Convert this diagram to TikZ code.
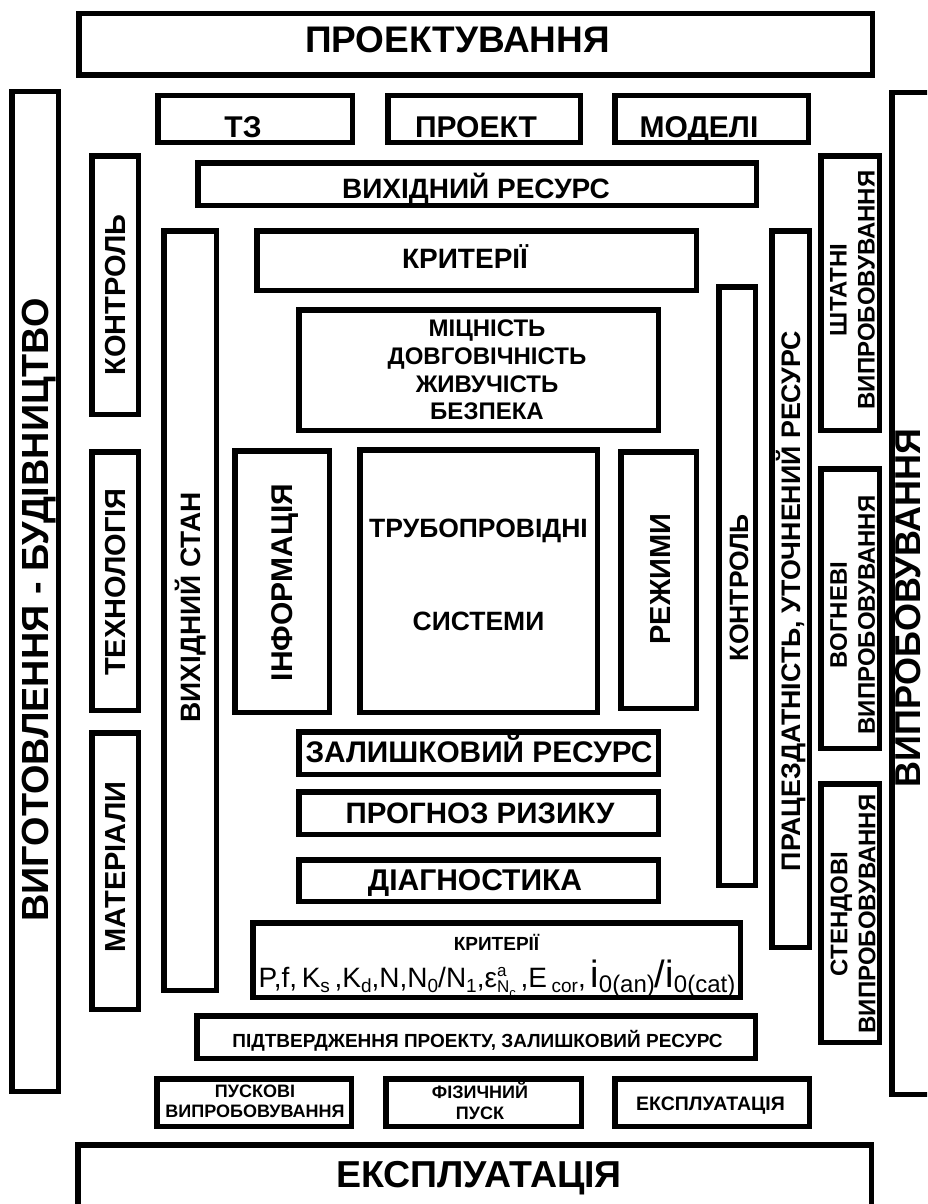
\documentclass[tikz,border=0pt]{standalone}
\usepackage{fontspec}
\setmainfont{Liberation Sans}
\newcommand\fs[1]{\fontsize{#1}{#1}\selectfont}
\newcommand\sbx[2][19]{\raisebox{-5pt}{\fs{#1}#2}}
\newcommand\bigch[1]{{\fs{38}#1}}
\newcommand\supsubx[2]{\rlap{\raisebox{11pt}{\fs{17}#1}}\raisebox{-5pt}{\fs{17}#2}}
\begin{document}
\begin{tikzpicture}[x=1pt,y=-1pt,
  box/.style={draw, line width=5.5pt, inner sep=0pt},
  lbl/.style={inner sep=0pt, anchor=base, font=\bfseries\fs{#1}},
  vlbl/.style={inner sep=0pt, anchor=base, rotate=90, font=\bfseries\fs{#1}},
  blk/.style={inner sep=0pt, align=center, font=\bfseries\fontsize{#1}{#1}\selectfont}]
\useasboundingbox (0,0) rectangle (927,1204);
\clip (0,0) rectangle (927,1204);

% boxes
\node[box, minimum width=793.5, minimum height=61.5] (bproj) at (475.5,44.5) {};
\node[box, minimum width=194.5, minimum height=46.5] (btz) at (255,119) {};
\node[box, minimum width=192.5, minimum height=46.5] (bproekt) at (484,119) {};
\node[box, minimum width=193.5, minimum height=46.5] (bmodeli) at (711.5,119) {};
\node[box, minimum width=558.5, minimum height=42.5] (bvres) at (477,184) {};
\node[box, minimum width=46.5, minimum height=999.5] (bbigL) at (35,591.5) {};
\node[box, minimum width=40.5, minimum height=1001.5] (bbigR) at (912,593.5) {};
\node[box, minimum width=46.5, minimum height=258.5] (bkontrL) at (115,285) {};
\node[box, minimum width=46.5, minimum height=258.5] (btekh) at (115,581) {};
\node[box, minimum width=46.5, minimum height=276.5] (bmater) at (115,871) {};
\node[box, minimum width=52.5, minimum height=759.5] (bvstan) at (190,610.5) {};
\node[box, minimum width=439.5, minimum height=59.5] (bkrit) at (476.5,260.5) {};
\node[box, minimum width=359.5, minimum height=120.5] (bmitsn) at (478.5,370) {};
\node[box, minimum width=94.5, minimum height=261.5] (binform) at (282,581.5) {};
\node[box, minimum width=237.5, minimum height=262.5] (btrub) at (478.5,581) {};
\node[box, minimum width=75.5, minimum height=256.5] (brezh) at (658.5,580) {};
\node[box, minimum width=36.5, minimum height=598.5] (bkontrR) at (737,586) {};
\node[box, minimum width=37.5, minimum height=716.5] (bprats) at (790.5,589) {};
\node[box, minimum width=58.5, minimum height=274.5] (bshtat) at (850,293) {};
\node[box, minimum width=58.5, minimum height=279.5] (bvohn) at (850,608.5) {};
\node[box, minimum width=58.5, minimum height=258.5] (bstend) at (850,913) {};
\node[box, minimum width=359.5, minimum height=42.5] (bzal) at (478.5,753) {};
\node[box, minimum width=359.5, minimum height=42.5] (bprog) at (478.5,813) {};
\node[box, minimum width=359.5, minimum height=41.5] (bdiag) at (478.5,880.5) {};
\node[box, minimum width=487.5, minimum height=74.5] (bkrit2) at (496.5,960) {};
\node[box, minimum width=558.5, minimum height=42.5] (bpidtv) at (476,1037) {};
\node[box, minimum width=194.5, minimum height=47.5] (bpusk) at (254,1102.5) {};
\node[box, minimum width=195.5, minimum height=47.5] (bfiz) at (483.5,1102.5) {};
\node[box, minimum width=194.5, minimum height=47.5] (bekspl) at (712,1102.5) {};
\node[box, minimum width=793.5, minimum height=112.5] (bbigB) at (474.5,1201) {};

% texts
\node[lbl=37] (tproj) at (457.5,53) {ПРОЕКТУВАННЯ};
\node[lbl=30] (ttz) at (243,137.5) {ТЗ};
\node[lbl=30] (tproekt) at (476,137.5) {ПРОЕКТ};
\node[lbl=30] (tmodeli) at (699,137.5) {МОДЕЛІ};
\node[lbl=28] (tvres) at (476,198.5) {ВИХІДНИЙ РЕСУРС};
\node[lbl=28] (tkrit) at (465,268) {КРИТЕРІЇ};
\node[blk=24, font=\bfseries\fontsize{24}{27.7}\selectfont] (tmitsn) at (487,370) {МІЦНІСТЬ\\ДОВГОВІЧНІСТЬ\\ЖИВУЧІСТЬ\\БЕЗПЕКА};
\node[blk=26.5, font=\bfseries\fontsize{26.5}{93}\selectfont] (ttrub) at (478.5,575) {ТРУБОПРОВІДНІ\\СИСТЕМИ};
\node[vlbl=30] (tinform) at (292,582.5) {ІНФОРМАЦІЯ};
\node[vlbl=28] (tvstan) at (200.5,607.5) {ВИХІДНИЙ СТАН};
\node[vlbl=29] (trezh) at (670,579) {РЕЖИМИ};
\node[vlbl=26.5] (tkontrR) at (748,587.5) {КОНТРОЛЬ};
\node[vlbl=29] (tkontrL) at (125,295) {КОНТРОЛЬ};
\node[vlbl=29] (ttekh) at (125,582) {ТЕХНОЛОГІЯ};
\node[vlbl=29] (tmater) at (125,867) {МАТЕРІАЛИ};
\node[vlbl=26.8] (tprats) at (800,601) {ПРАЦЕЗДАТНІСТЬ, УТОЧНЕНИЙ РЕСУРС};
\node[blk=24, rotate=90, font=\bfseries\fontsize{24}{28}\selectfont] (tshtat) at (852.5,290) {ШТАТНІ\\ВИПРОБОВУВАННЯ};
\node[blk=24, rotate=90, font=\bfseries\fontsize{24}{28}\selectfont] (tvohn) at (852.5,615) {ВОГНЕВІ\\ВИПРОБОВУВАННЯ};
\node[blk=24, rotate=90, font=\bfseries\fontsize{24}{28}\selectfont] (tstend) at (853,914) {СТЕНДОВІ\\ВИПРОБОВУВАННЯ};
\node[lbl=29.8] (tzal) at (479,762.5) {ЗАЛИШКОВИЙ РЕСУРС};
\node[lbl=29.5] (tprog) at (480,823.5) {ПРОГНОЗ РИЗИКУ};
\node[lbl=30] (tdiag) at (475,890.5) {ДІАГНОСТИКА};
\node[lbl=19] (tkrit2) at (496.5,950) {КРИТЕРІЇ};
\node[inner sep=0pt, anchor=base, font=\fs{28}] (tformula) at (497,987)
  {P,f,\,K\sbx{s}\,,K\sbx{d},N,N\sbx{0}/N\sbx{1},ε\supsubx{a}{N\sbx[13]{c}}\,,E\,\sbx{cor},\,\bigch{i}\sbx[24]{0(an)}\bigch{/}\bigch{i}\sbx[24]{0(cat)}};
\node[lbl=19] (tpidtv) at (477.5,1047) {ПІДТВЕРДЖЕННЯ ПРОЕКТУ, ЗАЛИШКОВИЙ РЕСУРС};
\node[blk=18, font=\bfseries\fontsize{18}{20}\selectfont] (tpusk) at (255,1101.5) {ПУСКОВІ\\ВИПРОБОВУВАННЯ};
\node[blk=18, font=\bfseries\fontsize{18}{21}\selectfont] (tfiz) at (480,1101) {ФІЗИЧНИЙ\\ПУСК};
\node[lbl=19.5] (tekspl) at (710.5,1110) {ЕКСПЛУАТАЦІЯ};
\node[lbl=37.5] (tbigB) at (479,1187.5) {ЕКСПЛУАТАЦІЯ};
\node[vlbl=37.8] (tbigL) at (48.5,610) {ВИГОТОВЛЕННЯ - БУДІВНИЦТВО};
\node[vlbl=36] (tbigR) at (920,608) {ВИПРОБОВУВАННЯ};
\end{tikzpicture}
\end{document}
